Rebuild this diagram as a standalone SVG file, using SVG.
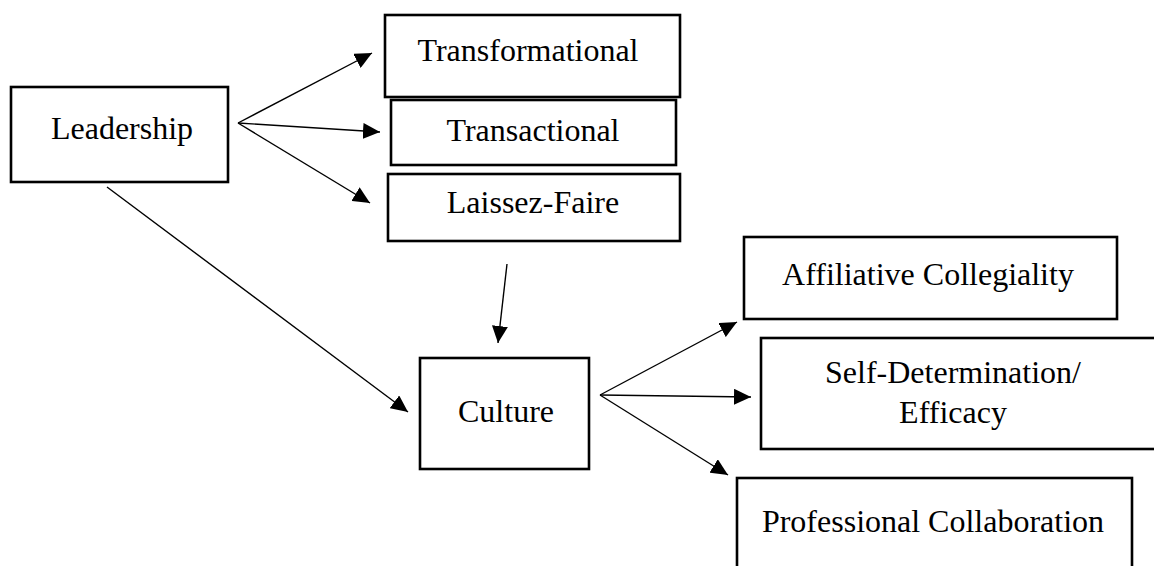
<svg xmlns="http://www.w3.org/2000/svg" width="1154" height="566" viewBox="0 0 1154 566">
  <style>
    .box { fill: #ffffff; stroke: #000000; stroke-width: 2.6; }
    .label { font-family: "Liberation Serif", "Times New Roman", serif; font-size: 32px; fill: #000000; text-anchor: middle; }
    .link { stroke: #000000; stroke-width: 1.4; fill: none; marker-end: url(#head); }
  </style>
  <defs>
    <!-- solid triangular arrowhead, tip at the line end -->
    <marker id="head" markerUnits="userSpaceOnUse" markerWidth="18" markerHeight="16" refX="17" refY="8" orient="auto">
      <path d="M0,0 L17,8 L0,16 Z" fill="#000000"/>
    </marker>
  </defs>
  <rect width="1154" height="566" fill="#ffffff"/>

  <g id="connectors">
    <line class="link" x1="238" y1="123" x2="372" y2="53"/>
    <line class="link" x1="238" y1="123" x2="380" y2="132"/>
    <line class="link" x1="238" y1="123" x2="370" y2="203"/>
    <line class="link" x1="107" y1="187" x2="408" y2="412"/>
    <line class="link" x1="507" y1="264" x2="498" y2="343"/>
    <line class="link" x1="600" y1="395" x2="737" y2="322"/>
    <line class="link" x1="600" y1="395" x2="751" y2="397"/>
    <line class="link" x1="600" y1="395" x2="728" y2="475"/>
  </g>

  <g id="leadership">
    <rect class="box" x="11" y="87" width="217" height="95"/>
    <text class="label" x="122" y="139">Leadership</text>
  </g>
  <g id="transformational">
    <rect class="box" x="385" y="15" width="295" height="82"/>
    <text class="label" x="528" y="61">Transformational</text>
  </g>
  <g id="transactional">
    <rect class="box" x="391" y="100" width="285" height="65"/>
    <text class="label" x="533" y="141">Transactional</text>
  </g>
  <g id="laissez-faire">
    <rect class="box" x="388" y="174" width="292" height="67"/>
    <text class="label" x="533" y="213">Laissez-Faire</text>
  </g>
  <g id="culture">
    <rect class="box" x="420" y="358" width="169" height="111"/>
    <text class="label" x="506" y="422">Culture</text>
  </g>
  <g id="affiliative-collegiality">
    <rect class="box" x="744" y="237" width="373" height="82"/>
    <text class="label" x="928" y="285">Affiliative Collegiality</text>
  </g>
  <g id="self-determination">
    <rect class="box" x="761" y="338" width="400" height="111"/>
    <text class="label" x="953" y="383">Self-Determination/</text>
    <text class="label" x="953" y="423">Efficacy</text>
  </g>
  <g id="professional-collaboration">
    <rect class="box" x="737" y="478" width="395" height="100"/>
    <text class="label" x="933" y="532">Professional Collaboration</text>
  </g>
</svg>
